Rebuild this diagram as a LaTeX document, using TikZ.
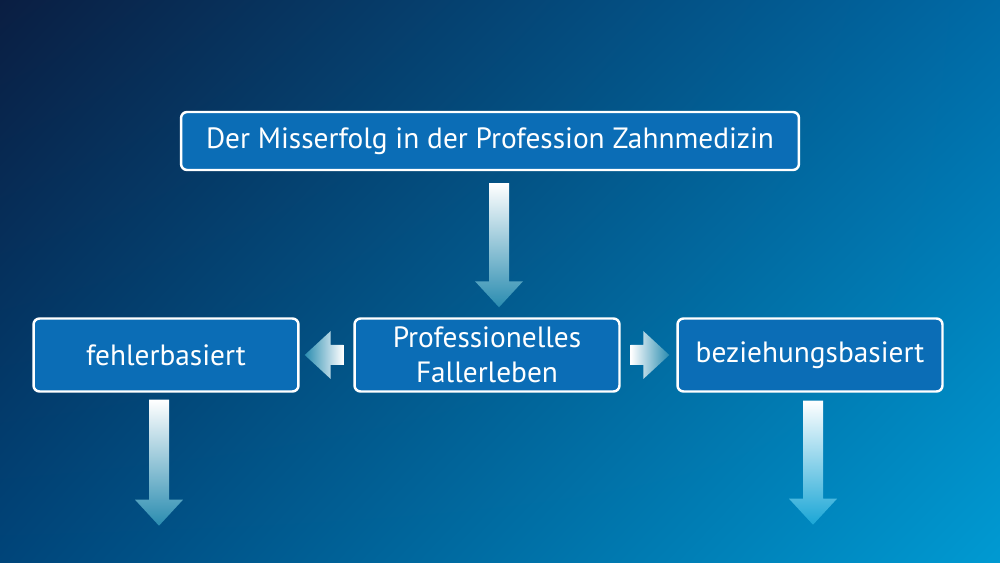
\documentclass[tikz,border=0pt]{standalone}
\usepackage{fontspec}
\setmainfont{PT Sans}
\usepackage{tikz}
\usetikzlibrary{calc,shadings}

\definecolor{bgTL}{HTML}{0A1E42}
\definecolor{bgTR}{HTML}{006AA6}
\definecolor{bgBL}{HTML}{00457A}
\definecolor{bgBR}{HTML}{009AD2}
\definecolor{boxfill}{HTML}{0B6DB6}
\definecolor{tipc}{HTML}{2A8CB0}
\definecolor{tipcyan}{HTML}{1AA6D6}

\tikzset{
    box/.style={draw=white, line width=1.4pt, rounded corners=0.12cm, fill=boxfill,
        text=white, minimum width=5.3cm, minimum height=1.46cm, align=center,
        font=\fontsize{16.7}{20}\selectfont, inner sep=0pt},
    shadedown/.style={top color=white, bottom color=#1},
    shadedown/.default=tipc,
    shadeleft/.style={left color=tipc, right color=white},
    shaderight/.style={left color=white, right color=tipc}
}

\newcommand{\flowdown}[3][tipc]{\shade[shadedown=#1] ($(#2)+(-10,0)$) -- ($(#2)+(10,0)$) -- ($(#3)+(10,-26)$) -- ($(#3)+(24,-26)$) -- (#3) -- ($(#3)+(-24,-26)$) -- ($(#3)+(-10,-26)$) -- cycle;}
\newcommand{\flowleft}[2]{\shade[shadeleft] ($(#1)+(0,-10)$) -- ($(#1)+(0,10)$) -- ($(#2)+(26,10)$) -- ($(#2)+(26,24)$) -- (#2) -- ($(#2)+(26,-24)$) -- ($(#2)+(26,-10)$) -- cycle;}
\newcommand{\flowright}[2]{\shade[shaderight] ($(#1)+(0,-10)$) -- ($(#1)+(0,10)$) -- ($(#2)+(-26,10)$) -- ($(#2)+(-26,24)$) -- (#2) -- ($(#2)+(-26,-24)$) -- ($(#2)+(-26,-10)$) -- cycle;}

\begin{document}
\begin{tikzpicture}[line cap=round,line join=round,x=0.02cm,y=-0.02cm]
    \useasboundingbox (0,0) rectangle (1000,563);
    \shade[upper left=bgTL, upper right=bgTR, lower left=bgBL, lower right=bgBR] (0,0) rectangle (1000,563);
    % boxes
    \node[box, minimum width=12.36cm, minimum height=1.16cm] (top) at (490,141) {Der Misserfolg in der Profession Zahnmedizin};
    \node[box] (left) at (166,355) {fehlerbasiert};
    \node[box] (mid) at (487,355) {Professionelles\\Fallerleben};
    \node[box] (right) at (810,355) {beziehungsbasiert};
    % arrow ends
    \coordinate (t1) at ($(top.south)+(9,12)$);
    \coordinate (t2) at ($(mid.north)+(12,-10)$);
    \coordinate (l1) at ($(mid.west)+(-10,0)$);
    \coordinate (l2) at ($(left.east)+(5,0)$);
    \coordinate (r1) at ($(mid.east)+(10,0)$);
    \coordinate (r2) at ($(right.west)+(-7,0)$);
    \coordinate (f1) at ($(left.south)+(-7,7)$);
    \coordinate (f2) at ($(left.south)+(-7,133)$);
    \coordinate (b1) at ($(right.south)+(3,8)$);
    \coordinate (b2) at ($(right.south)+(3,132)$);
    % arrows
    \flowdown{t1}{t2}
    \flowleft{l1}{l2}
    \flowright{r1}{r2}
    \flowdown{f1}{f2}
    \flowdown[tipcyan]{b1}{b2}
\end{tikzpicture}
\end{document}
